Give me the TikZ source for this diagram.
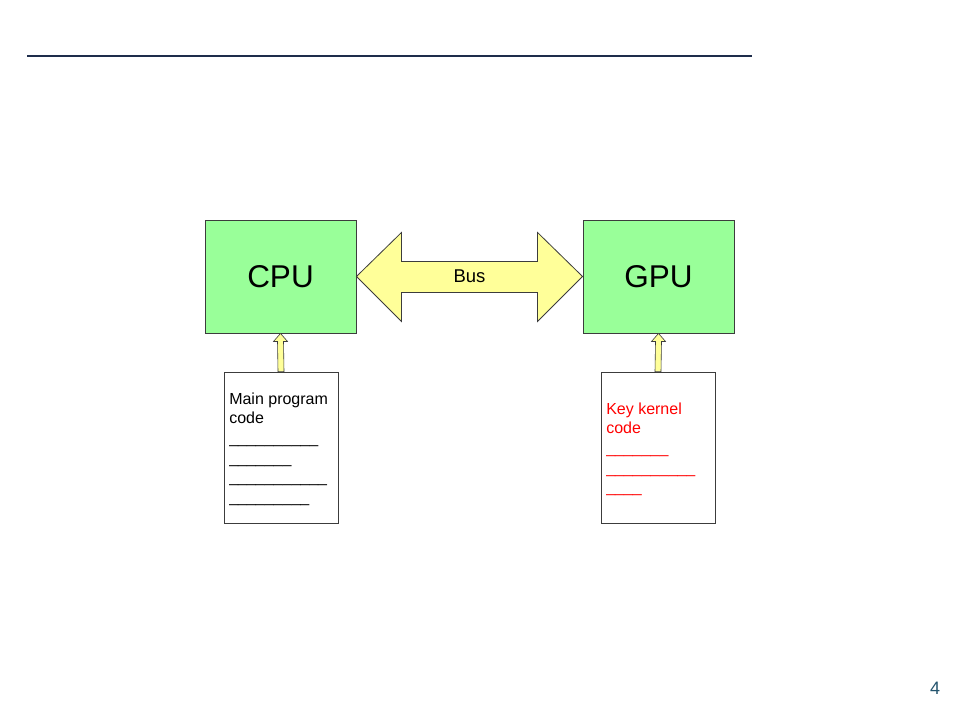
\documentclass[tikz,border=0pt]{standalone}
\usepackage{fontspec}
\setmainfont{Liberation Sans}
\usetikzlibrary{calc}
\definecolor{boxgreen}{RGB}{153,255,153}
\definecolor{busyellow}{RGB}{255,255,153}
\definecolor{edgegray}{RGB}{60,60,60}
\definecolor{ruleblue}{RGB}{30,45,75}
\definecolor{pagenum}{RGB}{36,84,110}
\definecolor{kernelred}{RGB}{255,0,0}
\tikzset{
  unitbox/.style={draw=edgegray, line width=0.9pt, fill=boxgreen, minimum width=151pt, minimum height=113pt, inner sep=0pt, font=\fontsize{31.5}{36}\selectfont},
  docbox/.style={draw=edgegray, line width=0.9pt, fill=white, minimum width=114pt, minimum height=151pt, inner sep=0pt},
  doctext/.style={anchor=north west, inner sep=0pt, align=left, font=\fontsize{16}{19.6}\selectfont},
  blockarrow/.style={draw=edgegray, line width=0.6pt, fill=busyellow, line join=miter}
}
\begin{document}
\begin{tikzpicture}[x=1pt,y=-1pt]
\useasboundingbox (0,0) rectangle (960,720);
\fill[white] (0,0) rectangle (960,720);
% top rule
\coordinate (ruleL) at (27,56);
\coordinate (ruleR) at (752,56);
\draw[ruleblue, line width=1.2pt] (ruleL) -- (ruleR);
% page number
\node[text=pagenum, font=\fontsize{18}{22}\selectfont] (pnum) at (935,688) {4};
% units
\node[unitbox] (cpu) at (280.5,276.5) {CPU};
\node[unitbox] (gpu) at (658.5,276.5) {GPU};
% bus double arrow
\draw[blockarrow, line width=0.8pt]
  (cpu.east)
  -- ($(cpu.east)+(45,-44)$)
  -- ($(cpu.east)+(45,-15)$)
  -- ($(gpu.west)+(-45,-15)$)
  -- ($(gpu.west)+(-45,-44)$)
  -- (gpu.west)
  -- ($(gpu.west)+(-45,45)$)
  -- ($(gpu.west)+(-45,16)$)
  -- ($(cpu.east)+(45,16)$)
  -- ($(cpu.east)+(45,45)$)
  -- cycle;
\node[font=\fontsize{18.5}{22}\selectfont] (bus) at (469.5,276) {Bus};
% documents
\node[docbox] (maindoc) at (281,447.5) {};
\node[docbox] (kerndoc) at (658,447.5) {};
\node[doctext] (maintext) at ($(maindoc.north west)+(5.5,21)$)
  {Main program\\code\\\_\_\_\_\_\_\_\_\_\_\\\_\_\_\_\_\_\_\\\_\_\_\_\_\_\_\_\_\_\_\\\_\_\_\_\_\_\_\_\_};
\node[doctext, text=kernelred] (kerntext) at ($(kerndoc.north west)+(5.5,31)$)
  {Key kernel\\code\\\_\_\_\_\_\_\_\\\_\_\_\_\_\_\_\_\_\_\\\_\_\_\_};
% small block arrows
\draw[blockarrow]
  ($(maindoc.north)+(-3,0)$) -- ($(cpu.south)+(-3,8)$) -- ($(cpu.south)+(-7,8)$)
  -- (cpu.south) -- ($(cpu.south)+(7,8)$) -- ($(cpu.south)+(3,8)$)
  -- ($(maindoc.north)+(3,0)$) -- cycle;
\draw[blockarrow]
  ($(kerndoc.north)+(-3,0)$) -- ($(gpu.south)+(-3,8)$) -- ($(gpu.south)+(-7,8)$)
  -- (gpu.south) -- ($(gpu.south)+(7,8)$) -- ($(gpu.south)+(3,8)$)
  -- ($(kerndoc.north)+(3,0)$) -- cycle;
\end{tikzpicture}
\end{document}
